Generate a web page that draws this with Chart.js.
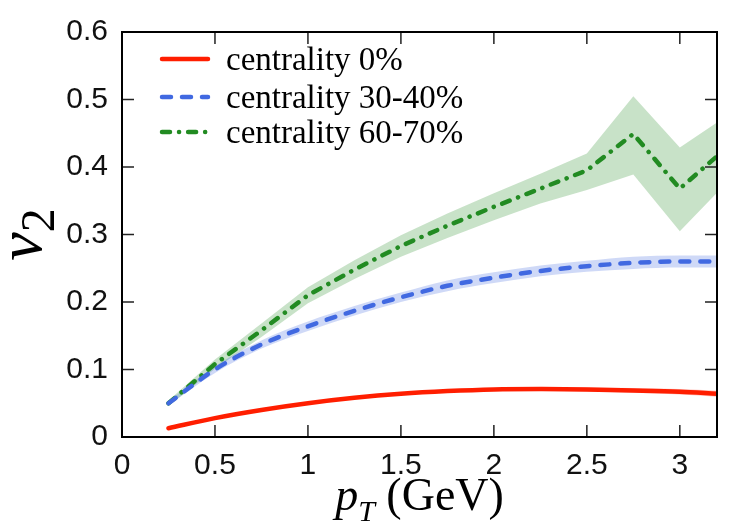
<!DOCTYPE html>
<html>
<head>
<meta charset="utf-8">
<script src="https://cdn.jsdelivr.net/npm/chart.js@4.4.1/dist/chart.umd.min.js"></script>
<style>
  html, body { margin: 0; padding: 0; background: #fff; }
</style>
</head>
<body>
<canvas id="v2-chart" width="750" height="530"></canvas>
<script>
// transverse momentum grid (GeV)
const pT = [0.25, 0.5, 0.75, 1.0, 1.25, 1.5, 1.75, 2.0, 2.25, 2.5, 2.75, 3.0, 3.2];

// centrality 0%
const v2Central = [0.013, 0.028, 0.040, 0.050, 0.058, 0.064, 0.068, 0.0705, 0.071, 0.0705, 0.069, 0.067, 0.064];
const errCentral = [0.001, 0.001, 0.001, 0.0015, 0.0015, 0.002, 0.002, 0.002, 0.0025, 0.003, 0.0035, 0.004, 0.0045];

// centrality 30-40%
const v2Mid = [0.050, 0.100, 0.137, 0.164, 0.187, 0.207, 0.224, 0.236, 0.246, 0.253, 0.258, 0.260, 0.260];
const errMid = [0.003, 0.005, 0.006, 0.007, 0.007, 0.007, 0.008, 0.008, 0.008, 0.008, 0.009, 0.009, 0.009];

// centrality 60-70%
const v2Peripheral = [0.050, 0.108, 0.158, 0.210, 0.248, 0.283, 0.313, 0.341, 0.368, 0.395, 0.449, 0.368, 0.416];
const upperPeripheral = [0.054, 0.115, 0.168, 0.222, 0.262, 0.299, 0.331, 0.361, 0.390, 0.420, 0.505, 0.429, 0.466];
const lowerPeripheral = [0.046, 0.101, 0.148, 0.198, 0.234, 0.267, 0.295, 0.321, 0.346, 0.366, 0.389, 0.305, 0.362];

const xTickValues = [0, 0.5, 1, 1.5, 2, 2.5, 3];
const yTickValues = [0, 0.1, 0.2, 0.3, 0.4, 0.5, 0.6];

const RED = 'rgb(255, 30, 0)';
const BLUE = 'rgb(65, 105, 225)';
const GREEN = 'rgb(34, 139, 34)';

const pts = (ys) => pT.map((x, i) => ({ x: x, y: ys[i] }));
const plus = (ys, es) => ys.map((y, i) => y + es[i]);
const minus = (ys, es) => ys.map((y, i) => y - es[i]);

function lineSet(label, ys, color, dash, smooth) {
    return {
        label: label,
        data: pts(ys),
        borderColor: color,
        borderWidth: 4.5,
        borderDash: dash,
        borderCapStyle: 'round',
        pointRadius: 0,
        fill: false,
        cubicInterpolationMode: smooth ? 'monotone' : 'default',
        tension: 0
    };
}

function bandSet(ys, fillColor, isLower, smooth) {
    return {
        label: '',
        data: pts(ys),
        borderWidth: 0,
        borderColor: 'rgba(0,0,0,0)',
        backgroundColor: fillColor,
        pointRadius: 0,
        fill: isLower ? '-1' : false,
        cubicInterpolationMode: smooth ? 'monotone' : 'default',
        tension: 0
    };
}

// frame + inward ticks on all four sides
const framePlugin = {
    id: 'frame',
    afterDatasetsDraw(chart) {
        const { ctx, chartArea: a, scales } = chart;
        const len = 12;
        ctx.save();
        ctx.strokeStyle = '#222';
        ctx.lineWidth = 1.5;
        scales.x.ticks.forEach(t => {
            const px = scales.x.getPixelForValue(t.value);
            if (px <= a.left + 1 || px >= a.right - 1) return;
            ctx.beginPath();
            ctx.moveTo(px, a.bottom); ctx.lineTo(px, a.bottom - len);
            ctx.moveTo(px, a.top); ctx.lineTo(px, a.top + len);
            ctx.stroke();
        });
        scales.y.ticks.forEach(t => {
            const py = scales.y.getPixelForValue(t.value);
            if (py <= a.top + 1 || py >= a.bottom - 1) return;
            ctx.beginPath();
            ctx.moveTo(a.left, py); ctx.lineTo(a.left + len, py);
            ctx.moveTo(a.right, py); ctx.lineTo(a.right - len, py);
            ctx.stroke();
        });
        ctx.strokeStyle = '#000';
        ctx.lineWidth = 2;
        ctx.strokeRect(a.left, a.top, a.right - a.left, a.bottom - a.top);
        ctx.restore();
    }
};

// legend inside the plot, top-left
const legendPlugin = {
    id: 'insideLegend',
    afterDraw(chart) {
        const ctx = chart.ctx;
        const rows = [59, 97, 132];
        ctx.save();
        ctx.font = '33px "Liberation Serif", "DejaVu Serif", serif';
        ctx.textBaseline = 'middle';
        ctx.fillStyle = '#000';
        for (let i = 0; i < 3; i++) {
            const ds = chart.data.datasets[i];
            ctx.beginPath();
            ctx.setLineDash(ds.borderDash || []);
            ctx.lineCap = 'round';
            ctx.strokeStyle = ds.borderColor;
            ctx.lineWidth = 4.5;
            ctx.moveTo(162, rows[i]);
            ctx.lineTo(208, rows[i]);
            ctx.stroke();
            ctx.setLineDash([]);
            ctx.fillText(ds.label, 226, rows[i] + 2);
        }
        ctx.restore();
    }
};

// axis titles with subscripts
const titlePlugin = {
    id: 'axisTitles',
    afterDraw(chart) {
        const { ctx, chartArea: a } = chart;
        ctx.save();
        ctx.fillStyle = '#000';
        ctx.textBaseline = 'alphabetic';
        ctx.textAlign = 'left';

        // x title: p_T (GeV)
        const big = 'italic 46px "Liberation Serif", serif';
        const sub = 'italic 30px "Liberation Serif", serif';
        const reg = '46px "Liberation Serif", serif';
        ctx.font = big; const wP = ctx.measureText('p').width;
        ctx.font = sub; const wT = ctx.measureText('T').width;
        ctx.font = reg; const wG = ctx.measureText(' (GeV)').width;
        let x = (a.left + a.right) / 2 - (wP + wT + wG) / 2;
        const base = 510;
        ctx.font = big; ctx.fillText('p', x, base); x += wP;
        ctx.font = sub; ctx.fillText('T', x, base + 11); x += wT;
        ctx.font = reg; ctx.fillText(' (GeV)', x, base);

        // y title: v_2, rotated
        const nuFont = 'italic 64px "Liberation Serif", serif';
        const twoFont = '48px "Liberation Serif", serif';
        ctx.font = nuFont; const wNu = ctx.measureText('ν').width;
        ctx.font = twoFont; const w2 = ctx.measureText('2').width;
        const cy = (a.top + a.bottom) / 2;
        ctx.translate(41, cy + (wNu + w2) / 2);
        ctx.rotate(-Math.PI / 2);
        ctx.font = nuFont; ctx.fillText('ν', 0, 0);
        ctx.font = twoFont; ctx.fillText('2', wNu, 13);
        ctx.restore();
    }
};

const tickFont = { family: '"Liberation Sans", Arial, sans-serif', size: 30 };

new Chart(document.getElementById('v2-chart').getContext('2d'), {
    type: 'line',
    data: {
        datasets: [
            lineSet('centrality 0%', v2Central, RED, [], true),
            lineSet('centrality 30-40%', v2Mid, BLUE, [9, 11], true),
            lineSet('centrality 60-70%', v2Peripheral, GREEN, [8, 9, 0.1, 9], false),
            bandSet(plus(v2Central, errCentral), 'rgba(255, 30, 0, 0.25)', false, true),
            bandSet(minus(v2Central, errCentral), 'rgba(255, 30, 0, 0.25)', true, true),
            bandSet(plus(v2Mid, errMid), 'rgba(65, 105, 225, 0.25)', false, true),
            bandSet(minus(v2Mid, errMid), 'rgba(65, 105, 225, 0.25)', true, true),
            bandSet(upperPeripheral, 'rgba(34, 139, 34, 0.25)', false, false),
            bandSet(lowerPeripheral, 'rgba(34, 139, 34, 0.25)', true, false)
        ]
    },
    options: {
        responsive: false,
        animation: false,
        layout: { padding: { left: 0, top: 20, right: 33, bottom: 0 } },
        plugins: {
            legend: { display: false },
            tooltip: { enabled: false }
        },
        scales: {
            x: {
                type: 'linear',
                min: 0,
                max: 3.2,
                afterFit: (s) => { s.height = 93; },
                afterBuildTicks: (s) => { s.ticks = xTickValues.map(v => ({ value: v })); },
                grid: { display: false, drawTicks: false },
                border: { display: false },
                ticks: {
                    padding: 11,
                    color: '#111',
                    font: tickFont,
                    maxRotation: 0,
                    callback: (v) => String(v)
                }
            },
            y: {
                min: 0,
                max: 0.6,
                afterFit: (s) => { s.width = 122; },
                afterBuildTicks: (s) => { s.ticks = yTickValues.map(v => ({ value: v })); },
                grid: { display: false, drawTicks: false },
                border: { display: false },
                ticks: {
                    padding: 14,
                    color: '#111',
                    font: tickFont,
                    callback: (v) => String(v)
                }
            }
        }
    },
    plugins: [framePlugin, legendPlugin, titlePlugin]
});
</script>
</body>
</html>
